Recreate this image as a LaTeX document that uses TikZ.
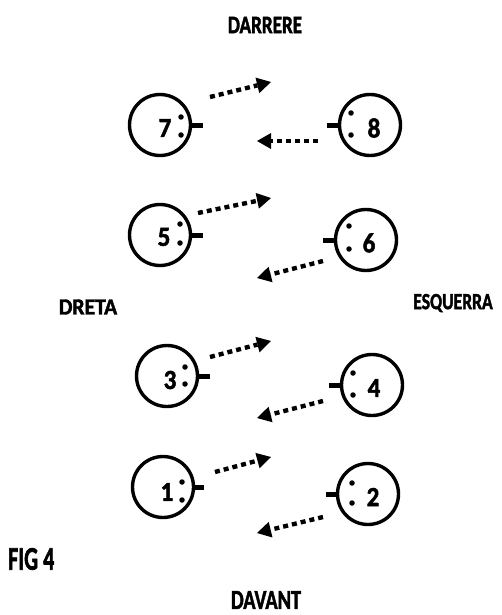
\documentclass[tikz,border=0pt]{standalone}
\usepackage{fontspec}
\setmainfont{Carlito}[BoldFeatures={FakeBold=2}]
\usepackage{tikz}
\usetikzlibrary{arrows.meta}

\tikzset{
  sensor/.style={circle, draw, line width=3.4pt, minimum size=61pt, inner sep=0pt},
  num/.style={font=\bfseries\fontsize{25}{25}\selectfont, inner sep=0pt},
  pin/.style={circle, fill, inner sep=0pt, minimum size=5.5pt},
  nub/.style={line width=5pt},
  push/.style={line width=4.4pt, dash pattern=on 5pt off 4pt,
    -{Triangle[length=14pt,width=16pt,line width=0pt]}},
  side/.style={font=\bfseries\fontsize{22}{22}\selectfont, inner sep=0pt}
}

\begin{document}
\begin{tikzpicture}[x=1pt, y=-1pt]
\useasboundingbox (0,0) rectangle (502,615);

% sensor circles
\node[sensor] (c7) at (160,125) {};
\node[sensor] (c8) at (370,125) {};
\node[sensor] (c5) at (160,235) {};
\node[sensor] (c6) at (366,240) {};
\node[sensor] (c3) at (167,376) {};
\node[sensor] (c4) at (372,385) {};
\node[sensor] (c1) at (163,487) {};
\node[sensor] (c2) at (368,494) {};

% numbers
\node[num] (n7) at (165,128) {\scalebox{1}[1.1]{7}};
\node[num] (n8) at (374,128) {\scalebox{1}[1.1]{8}};
\node[num] (n5) at (164,237) {\scalebox{1}[1.1]{5}};
\node[num] (n6) at (369,243) {\scalebox{1}[1.1]{6}};
\node[num] (n3) at (170,380) {\scalebox{1}[1.1]{3}};
\node[num] (n4) at (374,388) {\scalebox{1}[1.1]{4}};
\node[num] (n1) at (167,492) {\scalebox{1}[1.1]{1}};
\node[num] (n2) at (373,497) {\scalebox{1}[1.1]{2}};

% pins
\node[pin] (p7a) at (181,117) {};
\node[pin] (p7b) at (181,135) {};
\node[pin] (p8a) at (351,113) {};
\node[pin] (p8b) at (351,135) {};
\node[pin] (p5a) at (180,224) {};
\node[pin] (p5b) at (180,243) {};
\node[pin] (p6a) at (349,226) {};
\node[pin] (p6b) at (349,249) {};
\node[pin] (p3a) at (185,367) {};
\node[pin] (p3b) at (185,384) {};
\node[pin] (p4a) at (353,373) {};
\node[pin] (p4b) at (353,395) {};
\node[pin] (p1a) at (182,482) {};
\node[pin] (p1b) at (182,500) {};
\node[pin] (p2a) at (352,483) {};
\node[pin] (p2b) at (352,503) {};

% connector nubs
\draw[nub] (c7.east) -- ++(11,0);
\draw[nub] (c8.west) -- ++(-11,0);
\draw[nub] (c5.east) -- ++(11,0);
\draw[nub] (c6.west) -- ++(-11,0);
\draw[nub] (c3.east) -- ++(11,0);
\draw[nub] (c4.west) -- ++(-11,0);
\draw[nub] (c1.east) -- ++(9,0);
\draw[nub] (c2.west) -- ++(-10,0);

% arrow ends
\coordinate (a7s) at (210,97);
\coordinate (a7e) at (271,82);
\coordinate (a8s) at (318,141);
\coordinate (a8e) at (257,141);
\coordinate (a5s) at (198,213);
\coordinate (a5e) at (271,198);
\coordinate (a6s) at (323,261);
\coordinate (a6e) at (257,278);
\coordinate (a3s) at (210,357);
\coordinate (a3e) at (271,341);
\coordinate (a4s) at (323,401);
\coordinate (a4e) at (257,418);
\coordinate (a1s) at (215,472);
\coordinate (a1e) at (271,457);
\coordinate (a2s) at (323,517);
\coordinate (a2e) at (257,533);

\draw[push] (a7s) -- (a7e);
\draw[push] (a8s) -- (a8e);
\draw[push] (a5s) -- (a5e);
\draw[push] (a6s) -- (a6e);
\draw[push] (a3s) -- (a3e);
\draw[push] (a4s) -- (a4e);
\draw[push] (a1s) -- (a1e);
\draw[push] (a2s) -- (a2e);

% labels
\node[side] (back) at (265,25) {\scalebox{0.87}[1.15]{DARRERE}};
\node[side] (right) at (88,307) {\scalebox{0.98}[1.05]{DRETA}};
\node[side] (left) at (453,303) {\scalebox{0.8}[1.05]{ESQUERRA}};
\node[side, anchor=west] (fig) at (8,559) {\scalebox{1}[1.5]{FIG 4}};
\node[side] (front) at (266,600) {\scalebox{0.92}[1.25]{DAVANT}};
\end{tikzpicture}
\end{document}
